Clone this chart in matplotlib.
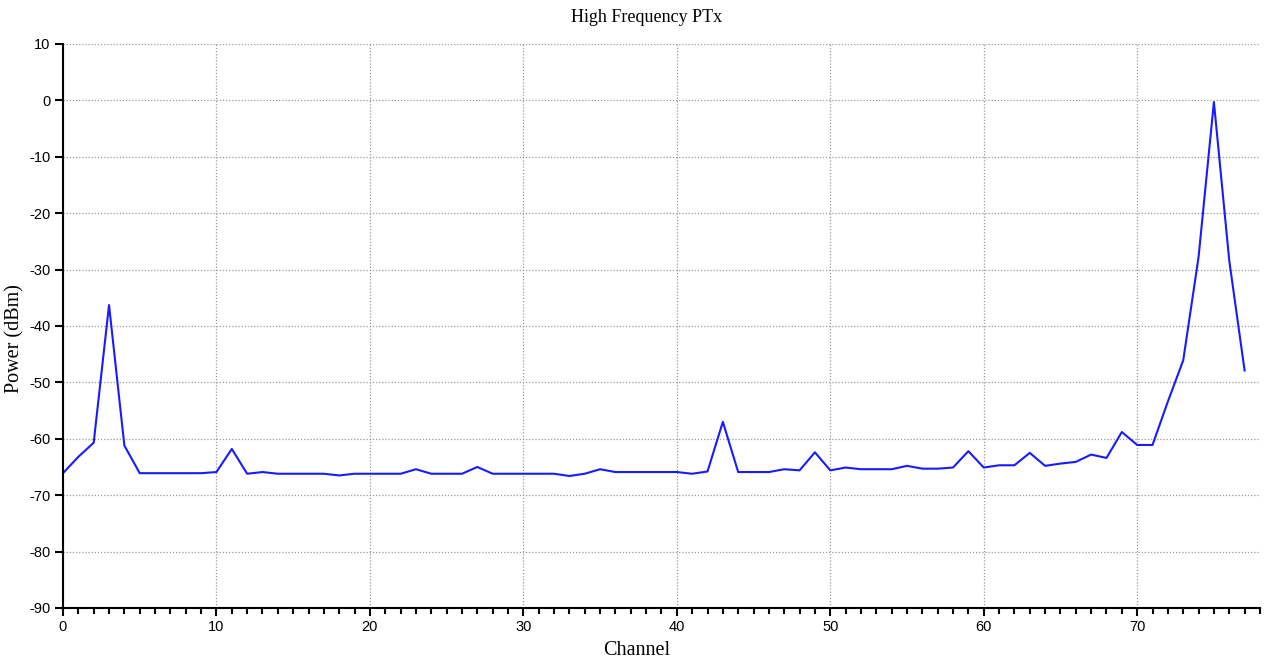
import numpy as np
import matplotlib
matplotlib.use("Agg")
import matplotlib.pyplot as plt
from matplotlib.ticker import MultipleLocator

plt.rcParams["axes.unicode_minus"] = False

# channel index and measured power (dBm)
channels = np.arange(78)
power = [
    -66.1, -63.2, -60.7, -36.3, -61.2, -66.1, -66.1, -66.1, -66.1, -66.1,
    -65.9, -61.8, -66.2, -65.9, -66.2, -66.2, -66.2, -66.2, -66.5, -66.2,
    -66.2, -66.2, -66.2, -65.4, -66.2, -66.2, -66.2, -65.0, -66.2, -66.2,
    -66.2, -66.2, -66.2, -66.6, -66.2, -65.4, -65.9, -65.9, -65.9, -65.9,
    -65.9, -66.2, -65.8, -57.0, -65.9, -65.9, -65.9, -65.4, -65.6, -62.4,
    -65.6, -65.1, -65.4, -65.4, -65.4, -64.8, -65.3, -65.3, -65.1, -62.2,
    -65.1, -64.7, -64.7, -62.5, -64.8, -64.4, -64.1, -62.8, -63.4, -58.8,
    -61.1, -61.1, -53.4, -46.1, -27.8, -0.3, -28.4, -47.9,
]

fig = plt.figure(figsize=(12.65, 6.62), dpi=100)
ax = fig.add_axes([0.0498, 0.0816, 0.9462, 0.852])

ax.plot(channels, power, color="#1a1aff", linewidth=1.5)

ax.set_xlim(0, 78)
ax.set_ylim(-90, 10)
ax.xaxis.set_major_locator(MultipleLocator(10))
ax.xaxis.set_minor_locator(MultipleLocator(1))
ax.yaxis.set_major_locator(MultipleLocator(10))

ax.grid(True, which="major", color="#999999", linestyle=(0, (1, 1.5)), linewidth=0.9)

for s in ("top", "right"):
    ax.spines[s].set_visible(False)
for s in ("left", "bottom"):
    ax.spines[s].set_linewidth(1.5)

ax.tick_params(axis="both", which="major", length=6, width=1.5, direction="out",
               labelsize=10.5, pad=3)
ax.tick_params(axis="x", which="minor", length=4, width=1.5, direction="out")
for lab in ax.get_xticklabels() + ax.get_yticklabels():
    lab.set_family("Liberation Sans")

# titles are centred on the figure rather than the axes
fig.text(0.511, 0.974, "High Frequency PTx", family="Liberation Serif",
         fontsize=13, ha="center", va="center")
fig.text(0.503, 0.018, "Channel", family="Liberation Serif",
         fontsize=14.5, ha="center", va="center")
fig.text(0.012, 0.488, "Power (dBm)", family="Liberation Serif",
         fontsize=14.5, ha="center", va="center", rotation=90)

fig.savefig("out.png", dpi=100)
